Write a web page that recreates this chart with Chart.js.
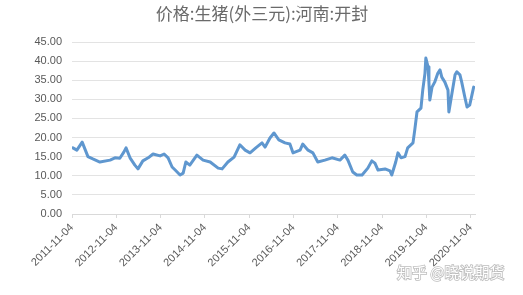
<!DOCTYPE html>
<html>
<head>
<meta charset="utf-8">
<script src="https://cdn.jsdelivr.net/npm/chart.js@4/dist/chart.umd.min.js"></script>
<style>
  html, body { margin: 0; padding: 0; background: #fff; }
  #wrap { width: 523px; height: 295px; position: relative; }
</style>
</head>
<body>
<div id="wrap"><canvas id="chart"></canvas></div>
<script>
// years since 2011-11-04
var yearsFromStart = [0.02, 0.11, 0.23, 0.36, 0.47, 0.63, 0.86, 0.97, 1.08, 1.17, 1.22, 1.31, 1.42, 1.49, 1.60, 1.72, 1.83, 1.99, 2.08, 2.17, 2.26, 2.33, 2.44, 2.51, 2.57, 2.66, 2.82, 2.96, 3.12, 3.30, 3.39, 3.52, 3.66, 3.79, 3.91, 4.02, 4.15, 4.29, 4.36, 4.47, 4.56, 4.67, 4.81, 4.92, 4.99, 5.15, 5.21, 5.33, 5.44, 5.55, 5.71, 5.87, 6.05, 6.16, 6.23, 6.34, 6.43, 6.55, 6.68, 6.77, 6.84, 6.91, 7.07, 7.18, 7.22, 7.31, 7.36, 7.43, 7.52, 7.58, 7.70, 7.74, 7.79, 7.88, 7.92, 7.97, 7.99, 8.04, 8.06, 8.08, 8.13, 8.19, 8.26, 8.31, 8.35, 8.42, 8.49, 8.51, 8.58, 8.65, 8.69, 8.76, 8.80, 8.87, 8.92, 8.98, 9.03, 9.07];
var prices = [17.3, 16.7, 18.8, 15.0, 14.4, 13.6, 14.1, 14.7, 14.6, 16.2, 17.3, 14.7, 12.8, 11.8, 13.9, 14.7, 15.7, 15.2, 15.7, 14.7, 12.3, 11.5, 10.2, 10.7, 13.6, 12.8, 15.4, 14.1, 13.6, 12.0, 11.8, 13.6, 14.9, 18.1, 16.7, 16.0, 17.3, 18.6, 17.5, 19.9, 21.2, 19.4, 18.6, 18.3, 16.0, 16.7, 18.3, 16.7, 16.0, 13.6, 14.1, 14.7, 14.1, 15.4, 14.1, 11.0, 10.2, 10.2, 12.0, 13.9, 13.3, 11.5, 11.8, 11.3, 10.2, 13.6, 16.0, 14.7, 15.0, 17.3, 18.6, 22.0, 26.7, 27.7, 32.4, 36.8, 40.8, 38.5, 34.3, 29.8, 33.2, 34.5, 36.8, 37.7, 35.8, 34.5, 32.4, 26.7, 31.6, 36.4, 37.2, 36.4, 34.5, 30.6, 28.0, 28.5, 31.1, 33.2];
var tickYears = [0, 1, 2, 3, 4, 5, 6, 7, 8, 9];
var startYear = 2011;
var titleText = '价格:生猪(外三元):河南:开封';
var watermark = '知乎 @晓说期货';

var points = yearsFromStart.map(function (t, i) { return { x: t, y: prices[i] }; });

var extras = {
  id: 'extras',
  afterDraw: function (chart) {
    var ctx = chart.ctx;
    ctx.save();
    ctx.font = '17px "Noto Sans CJK SC"';
    ctx.fillStyle = '#6a6a6a';
    ctx.textAlign = 'center';
    ctx.textBaseline = 'middle';
    ctx.fillText(titleText, 262, 14);

    ctx.font = '15px "Noto Sans CJK SC"';
    ctx.textAlign = 'left';
    ctx.lineWidth = 1.6;
    ctx.strokeStyle = 'rgba(160,160,160,0.7)';
    ctx.strokeText(watermark, 397, 272);
    ctx.fillStyle = '#ffffff';
    ctx.fillText(watermark, 397, 272);
    ctx.restore();
  }
};

new Chart(document.getElementById('chart'), {
  type: 'line',
  data: {
    datasets: [{
      data: points,
      borderColor: '#5f97cf',
      borderWidth: 3,
      borderJoinStyle: 'round',
      borderCapStyle: 'round',
      pointRadius: 0,
      tension: 0,
      fill: false
    }]
  },
  options: {
    responsive: true,
    maintainAspectRatio: false,
    animation: false,
    layout: { padding: { top: 42, right: 48, left: 0, bottom: 0 } },
    plugins: { legend: { display: false }, title: { display: false }, tooltip: { enabled: false } },
    scales: {
      x: {
        type: 'linear',
        min: 0,
        max: 9.1,
        afterBuildTicks: function (scale) {
          scale.ticks = tickYears.map(function (v) { return { value: v }; });
        },
        afterFit: function (scale) { scale.height = 81; },
        grid: { drawOnChartArea: false, color: '#d9d9d9', tickLength: 4 },
        border: { color: '#d9d9d9' },
        ticks: {
          minRotation: 45,
          maxRotation: 45,
          autoSkip: false,
          color: '#595959',
          font: { family: '"Liberation Sans"', size: 11 },
          callback: function (v) { return (startYear + v) + '-11-04'; }
        }
      },
      y: {
        min: 0,
        max: 45,
        afterFit: function (scale) { scale.width = 72; },
        grid: { color: '#e3e3e3', drawTicks: false },
        border: { display: false },
        ticks: {
          stepSize: 5,
          padding: 10,
          color: '#595959',
          font: { family: '"Liberation Sans"', size: 11 },
          callback: function (v) { return v.toFixed(2); }
        }
      }
    }
  },
  plugins: [extras]
});
</script>
</body>
</html>
